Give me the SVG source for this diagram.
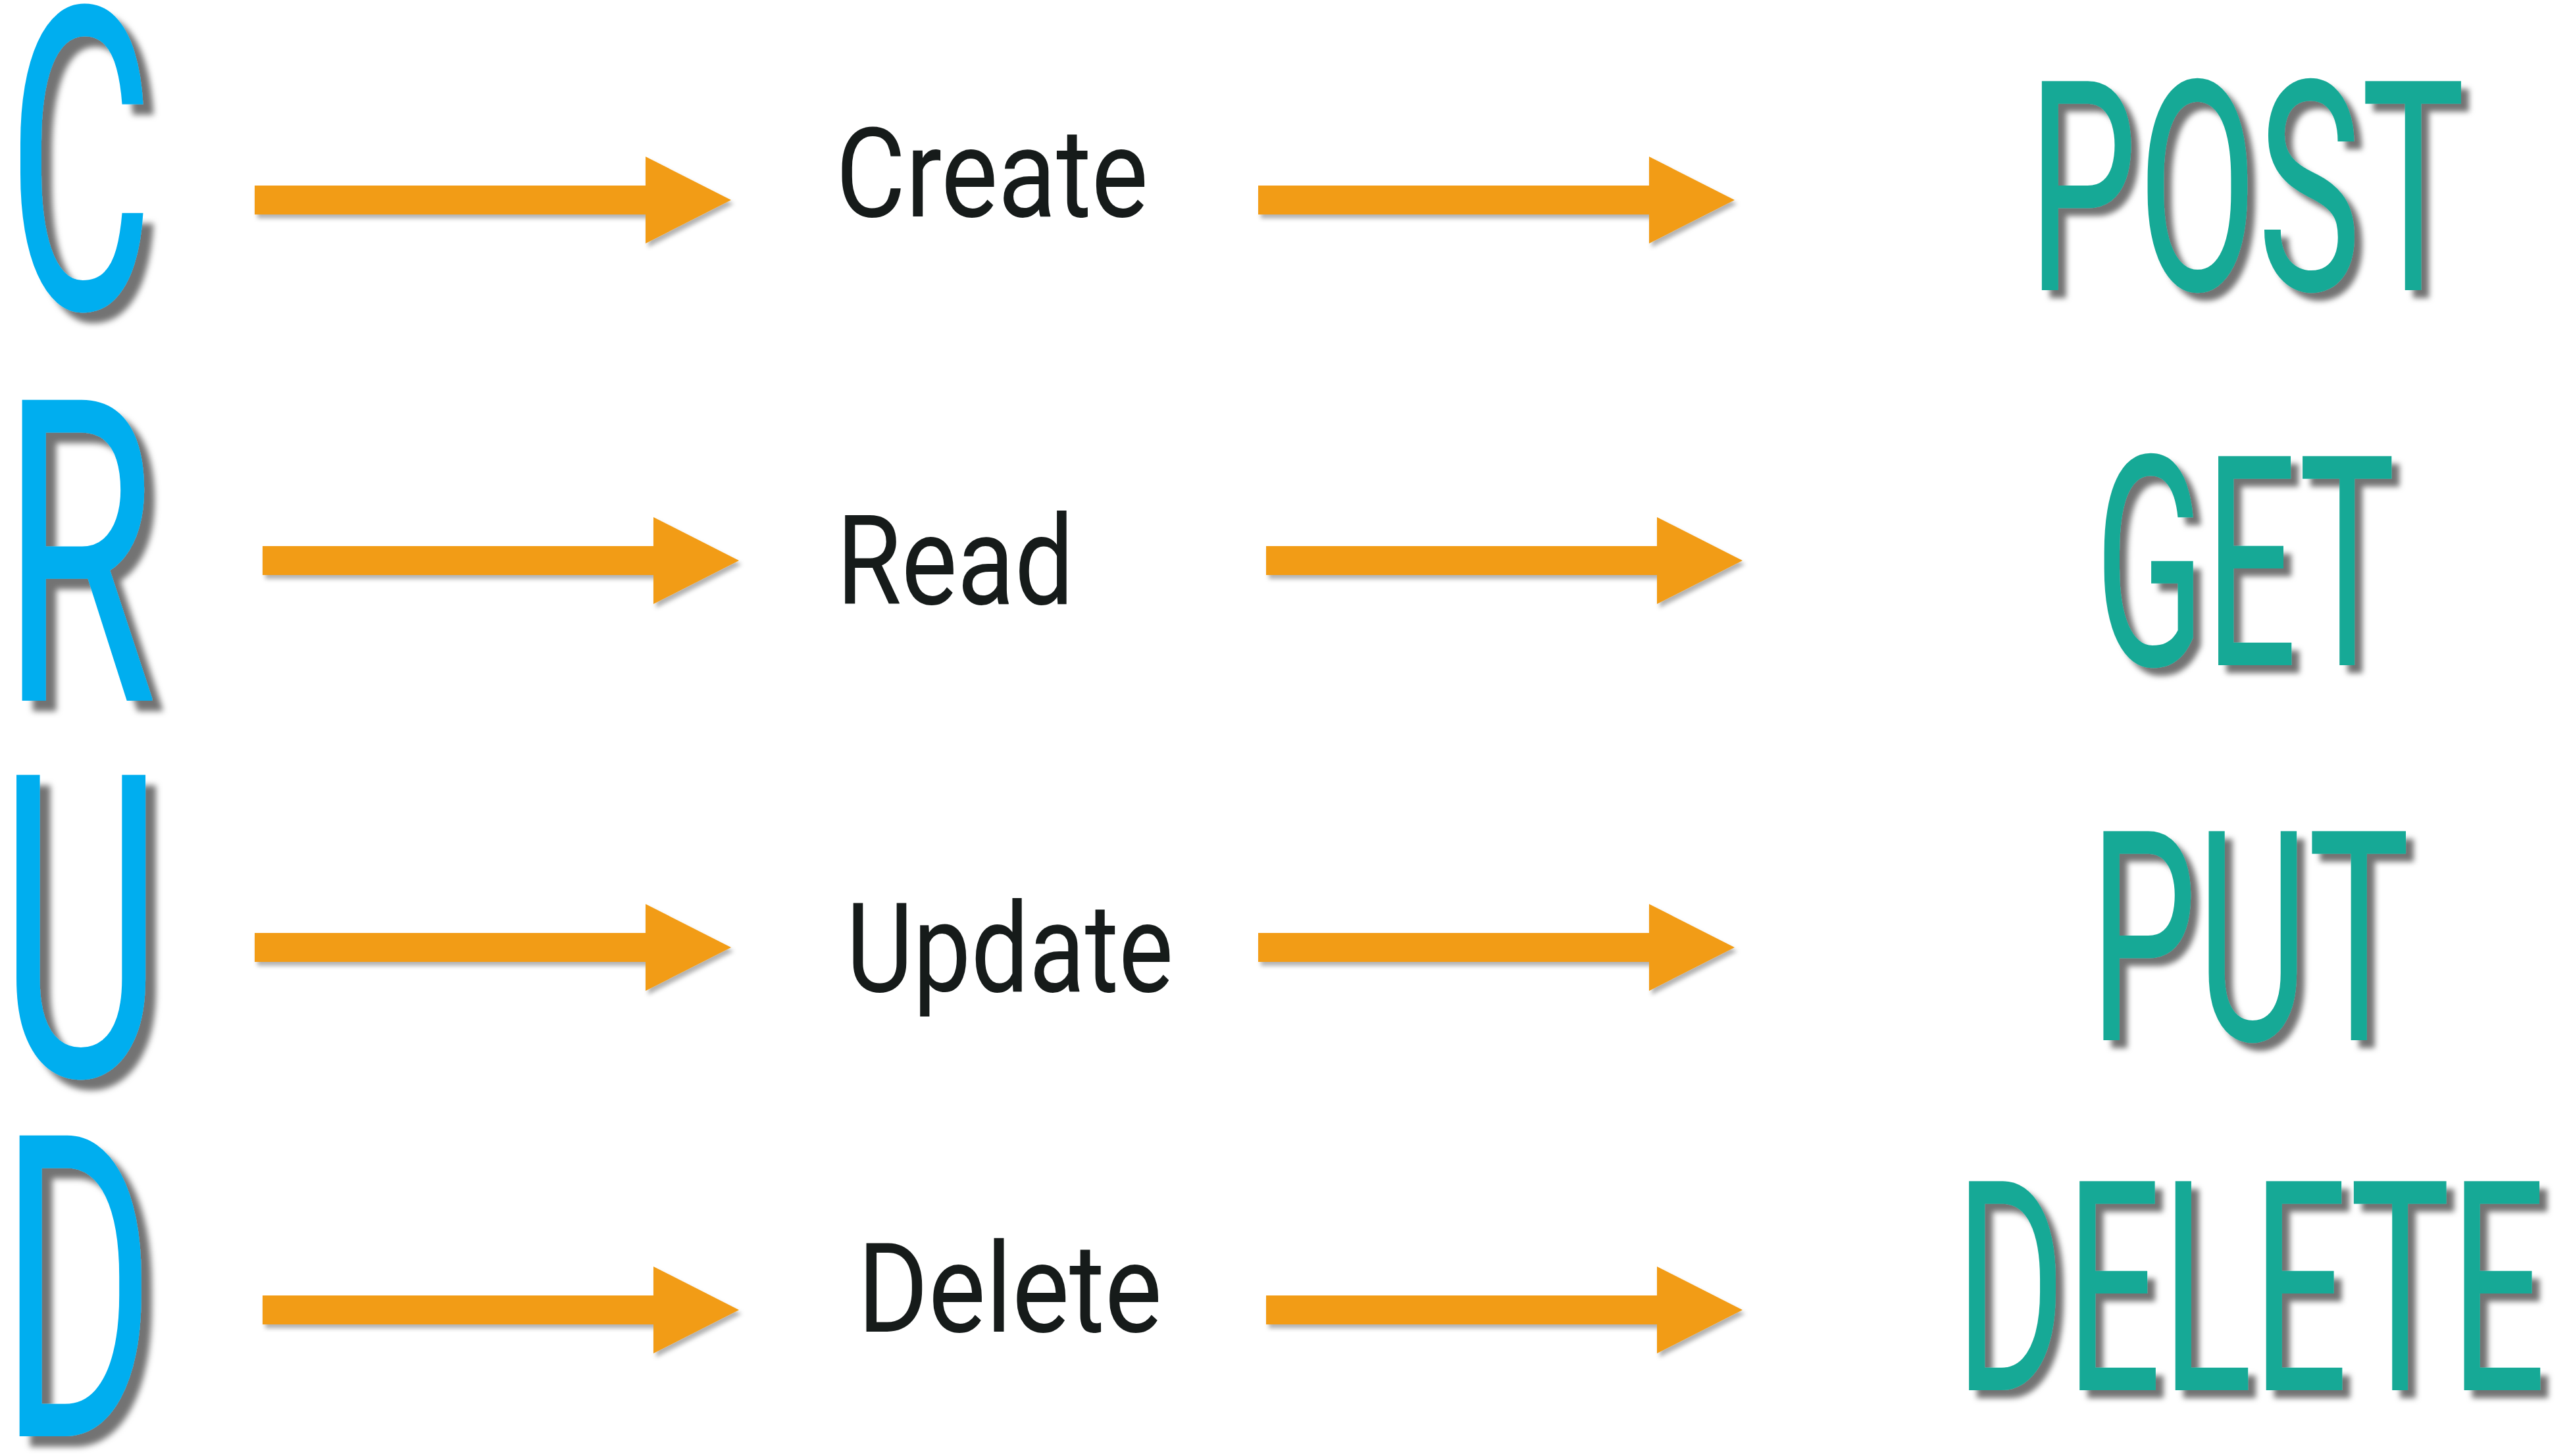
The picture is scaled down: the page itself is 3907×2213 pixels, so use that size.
<svg xmlns="http://www.w3.org/2000/svg" width="3907" height="2213" viewBox="0 0 3907 2213">
<defs>
<style>
.big{font-family:Roboto,"Liberation Sans",sans-serif;font-weight:400;font-size:643px;fill:#00AEEF;filter:url(#shBig)}
.http{font-family:Roboto,"Liberation Sans",sans-serif;font-weight:400;font-size:447px;fill:#17A996;filter:url(#shMid)}
.lbl{font-family:Roboto,"Liberation Sans",sans-serif;font-weight:400;font-size:190px;fill:#161B1A}
.arrow{fill:#F29C15;filter:url(#shArr)}
</style>
<filter id="shBig" x="-20%" y="-20%" width="150%" height="150%">
<feDropShadow dx="16" dy="16" stdDeviation="5" flood-color="#000" flood-opacity="0.55"/>
</filter>
<filter id="shMid" x="-20%" y="-20%" width="150%" height="150%">
<feDropShadow dx="12" dy="12" stdDeviation="4" flood-color="#000" flood-opacity="0.55"/>
</filter>
<filter id="shArr" x="-10%" y="-30%" width="120%" height="160%">
<feDropShadow dx="4" dy="6" stdDeviation="3" flood-color="#000" flood-opacity="0.3"/>
</filter>
<path id="arr" d="M0,-22 H594 V-66 L724,0 L594,66 V22 H0 Z"/>
</defs>
<rect width="3907" height="2213" fill="#ffffff"/>
<g id="crud">
<g id="letter-c"><text class="big" x="11" y="469" textLength="222" lengthAdjust="spacingAndGlyphs">C</text></g>
<g id="letter-r"><text class="big" x="2" y="1065" textLength="236" lengthAdjust="spacingAndGlyphs">R</text></g>
<g id="letter-u"><text class="big" x="-1" y="1635" textLength="247" lengthAdjust="spacingAndGlyphs">U</text></g>
<g id="letter-d"><text class="big" x="0" y="2183" textLength="236" lengthAdjust="spacingAndGlyphs">D</text></g>
</g>
<g id="operations">
<g id="op-create"><text class="lbl" x="1270" y="329" textLength="475" lengthAdjust="spacingAndGlyphs">Create</text></g>
<g id="op-read"><text class="lbl" x="1271" y="918" textLength="361" lengthAdjust="spacingAndGlyphs">Read</text></g>
<g id="op-update"><text class="lbl" x="1286" y="1507" textLength="497" lengthAdjust="spacingAndGlyphs">Update</text></g>
<g id="op-delete"><text class="lbl" x="1303" y="2024" textLength="463" lengthAdjust="spacingAndGlyphs">Delete</text></g>
</g>
<g id="methods">
<g id="m-post"><text class="http" x="3081" y="441" textLength="665" lengthAdjust="spacingAndGlyphs">POST</text></g>
<g id="m-get"><text class="http" x="3183" y="1011" textLength="457" lengthAdjust="spacingAndGlyphs">GET</text></g>
<g id="m-put"><text class="http" x="3175" y="1581" textLength="487" lengthAdjust="spacingAndGlyphs">PUT</text></g>
<g id="m-delete"><text class="http" x="2971" y="2113" textLength="898" lengthAdjust="spacingAndGlyphs">DELETE</text></g>
</g>
<g id="connectors">
<use href="#arr" class="arrow" x="387" y="304"/>
<use href="#arr" class="arrow" x="1912" y="304"/>
<use href="#arr" class="arrow" x="399" y="852"/>
<use href="#arr" class="arrow" x="1924" y="852"/>
<use href="#arr" class="arrow" x="387" y="1440"/>
<use href="#arr" class="arrow" x="1912" y="1440"/>
<use href="#arr" class="arrow" x="399" y="1991"/>
<use href="#arr" class="arrow" x="1924" y="1991"/>
</g>
</svg>
